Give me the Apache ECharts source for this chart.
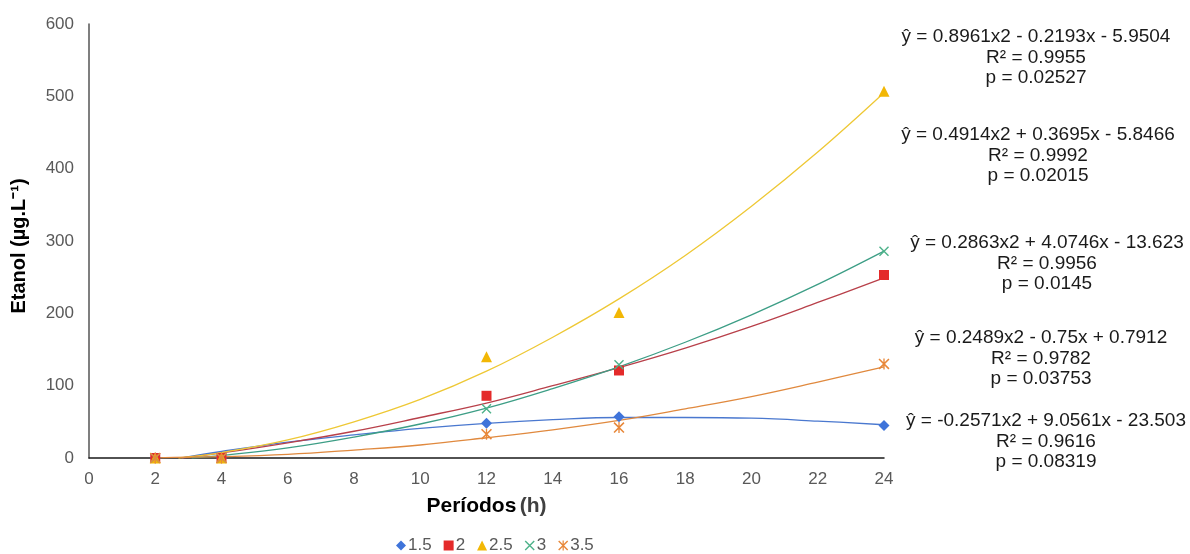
<!DOCTYPE html>
<html>
<head>
<meta charset="utf-8">
<title>Etanol</title>
<script src="https://cdn.jsdelivr.net/npm/echarts@6/dist/echarts.min.js"></script>
<style>
  html, body { margin: 0; padding: 0; background: #fff; }
  #chart { width: 1190px; height: 554px; }
</style>
</head>
<body>
<div id="chart"></div>
<script>
// períodos (h) dos pontos medidos
const periods = [2, 4, 12, 16, 24];
const seriesNames = ["1.5", "2", "2.5", "3", "3.5"];

const vals15 = [0, 0, 48, 57, 45];
const vals2 = [0, 0, 86, 121, 253];
const vals25 = [0, 0, 140, 201, 507];
const vals3 = [0, 0, 68, 129, 286];
const vals35 = [0, 0, 33, 42, 130];

// linhas de tendência (pontos lidos ao longo das curvas)
const trend15 = [[2.8, 0], [4, 9], [6, 22], [8, 32], [10, 41], [12, 48], [14, 53], [16, 56], [18, 56], [20, 55], [22, 51], [24, 46]];
const trend2 = [[2.8, 0], [4, 7], [6, 21], [8, 37], [10, 56], [12, 76], [14, 100], [16, 125], [18, 152], [20, 182], [22, 215], [24, 249]];
const trend25 = [[2.7, 0], [4, 7.5], [6, 25], [8, 50], [10, 81], [12, 120], [14, 167], [16, 220], [18, 280], [20, 348], [22, 423], [24, 505]];
const trend3 = [[3.1, 0], [4, 3.5], [6, 14], [8, 29], [10, 47], [12, 69], [14, 96], [16, 126], [18, 160], [20, 198], [22, 240], [24, 286]];
const trend35 = [[2, 0.3], [4, 1.8], [6, 5], [8, 11], [10, 18], [12, 28], [14, 39], [16, 52], [18, 68], [20, 85], [22, 105], [24, 126]];

// equações mostradas à direita
const equations = [
  ["ŷ = 0.8961x2 - 0.2193x - 5.9504", "R² = 0.9955", "p = 0.02527"],
  ["ŷ = 0.4914x2 + 0.3695x - 5.8466", "R² = 0.9992", "p = 0.02015"],
  ["ŷ = 0.2863x2 + 4.0746x - 13.623", "R² = 0.9956", "p = 0.0145"],
  ["ŷ = 0.2489x2 - 0.75x + 0.7912", "R² = 0.9782", "p = 0.03753"],
  ["ŷ = -0.2571x2 + 9.0561x - 23.503", "R² = 0.9616", "p = 0.08319"]
];

const font = "Liberation Sans, Arial, sans-serif";
const markColors = ["#3f74da", "#e42a2a", "#f2b705", "#4eb28a", "#e8883a"];
const trendColors = ["#4a78cf", "#b8404a", "#eec835", "#3d9e86", "#e0893e"];
const xPath = "path://M0,1 L1,0 L10,9 L9,10 Z M9,0 L10,1 L1,10 L0,9 Z";
const starPath = "path://M0,1 L1,0 L10,9 L9,10 Z M9,0 L10,1 L1,10 L0,9 Z M4.4,0 L5.6,0 L5.6,10 L4.4,10 Z";
const symbols = ["diamond", "rect", "triangle", xPath, starPath];
const symbolSizes = [11, 10, 11, 10, 11];

const allVals = [vals15, vals2, vals25, vals3, vals35];
const allTrends = [trend15, trend2, trend25, trend3, trend35];

const chart = echarts.init(document.getElementById("chart"));

// linhas de tendência primeiro, pontos por cima
const trendSeries = allTrends.map((t, i) => ({
  name: "trend " + seriesNames[i],
  type: "line",
  data: t,
  smooth: 0.4,
  showSymbol: false,
  silent: true,
  z: 2,
  lineStyle: { color: trendColors[i], width: 1.3 }
}));

const markSeries = allVals.map((v, i) => ({
  name: seriesNames[i],
  type: "scatter",
  data: periods.map((p, k) => [p, v[k]]),
  symbol: symbols[i],
  symbolSize: symbolSizes[i],
  z: 3,
  itemStyle: { color: markColors[i], opacity: 1 }
}));

const eqCenters = [1036, 1038, 1047, 1041, 1046];
const eqTops = [27, 125, 233, 328, 411];
const eqGraphics = equations.map((lines, i) => ({
  type: "text",
  x: eqCenters[i],
  y: eqTops[i],
  style: {
    text: lines.join("\n"),
    font: "19px " + font,
    fill: "#1a1a1a",
    align: "center",
    verticalAlign: "top",
    lineHeight: 20.5
  }
}));

const option = {
  animation: false,
  backgroundColor: "#fff",
  grid: { left: 89, right: 306, top: 24, bottom: 96 },
  legend: {
    data: seriesNames,
    left: 391,
    top: 532,
    itemWidth: 10,
    itemHeight: 10,
    itemGap: 12,
    textStyle: { color: "#595959", fontSize: 17, fontFamily: font, padding: [0, 0, 0, -3] }
  },
  xAxis: {
    type: "value",
    min: 0,
    max: 24,
    interval: 2,
    splitLine: { show: false },
    axisTick: { show: false },
    axisLine: { lineStyle: { color: "#1a1a1a", width: 1.5 } },
    axisLabel: { color: "#595959", fontSize: 17, fontFamily: font, margin: 13 },
    name: "{b|Períodos} {g|(h)}",
    nameLocation: "middle",
    nameGap: 38,
    nameTextStyle: {
      rich: {
        b: { fontSize: 21, fontWeight: "bold", color: "#000", fontFamily: font },
        g: { fontSize: 21, fontWeight: "bold", color: "#404040", fontFamily: font }
      }
    }
  },
  yAxis: {
    type: "value",
    min: 0,
    max: 600,
    interval: 100,
    splitLine: { show: false },
    axisTick: { show: false },
    axisLine: { show: true, lineStyle: { color: "#555", width: 1.5 } },
    axisLabel: { color: "#595959", fontSize: 17, fontFamily: font, margin: 15 },
    name: "Etanol (µg.L⁻¹)",
    nameLocation: "middle",
    nameGap: 60,
    nameTextStyle: { fontSize: 20, fontWeight: "bold", color: "#000", fontFamily: font, padding: [0, 0, 0, -10] }
  },
  graphic: eqGraphics,
  series: trendSeries.concat(markSeries)
};

chart.setOption(option);
</script>
</body>
</html>
